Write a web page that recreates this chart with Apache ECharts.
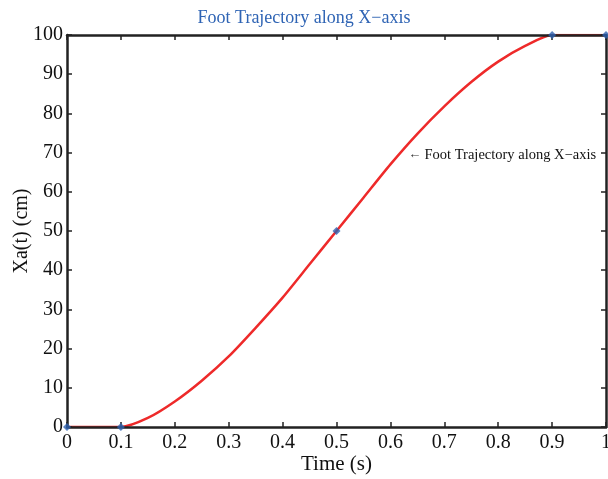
<!DOCTYPE html>
<html><head><meta charset="utf-8">
<script src="https://cdn.jsdelivr.net/npm/echarts@6/dist/echarts.min.js"></script>
<style>html,body{margin:0;padding:0;background:#fff}#c{width:608px;height:479px}</style>
</head><body><div id="c"></div>
<script>
const times = [0, 0.1, 0.15, 0.2, 0.25, 0.3, 0.35, 0.4, 0.45, 0.5, 0.55, 0.6, 0.65, 0.7, 0.75, 0.8, 0.85, 0.9, 1];
const xa =    [0, 0,   2.3,  6.5, 11.8, 18,  25.3, 33,  41.5, 50,  58.5, 67,  74.8, 81.8, 88,  93.2, 97.2, 100, 100];
const keyTimes = [0, 0.1, 0.5, 0.9, 1];
const keyXa =    [0, 0,   50,  100, 100];
const annotation = {x: 0.633, y: 69.4, text: 'Foot Trajectory along X\u2212axis'};
const FONT = '"Liberation Serif", "DejaVu Serif", serif';

const chart = echarts.init(document.getElementById('c'));
const axisCommon = {
  type: 'value',
  axisLine: {show: true, onZero: false, lineStyle: {color: '#222', width: 2.5}},
  axisTick: {show: true, inside: true, length: 5, lineStyle: {color: '#222', width: 1.5}},
  splitLine: {show: false},
  zlevel: 1,
  z: 10
};
chart.setOption({
  animation: false,
  title: {text: 'Foot Trajectory along X\u2212axis', left: 'center', top: 4,
    textStyle: {fontFamily: FONT, fontWeight: 'normal', fontSize: 18, color: '#2f64b4'}},
  grid: {left: 67, right: 2, top: 35, bottom: 52, outerBoundsMode: 'none', containLabel: false},
  xAxis: [
    Object.assign({}, axisCommon, {min: 0, max: 1, interval: 0.1, position: 'bottom',
      name: 'Time (s)', nameLocation: 'middle', nameGap: 27, nameMoveOverlap: false,
      nameTextStyle: {fontFamily: FONT, fontSize: 21, color: '#111'},
      axisLabel: {fontFamily: FONT, fontSize: 20, color: '#111', margin: 6,
        formatter: v => String(+v.toFixed(1))}}),
    Object.assign({}, axisCommon, {min: 0, max: 1, interval: 0.1, position: 'top', axisLabel: {show: false}})
  ],
  yAxis: [
    Object.assign({}, axisCommon, {min: 0, max: 100, interval: 10, position: 'left',
      name: 'Xa(t) (cm)', nameLocation: 'middle', nameGap: 35, nameMoveOverlap: false,
      nameTextStyle: {fontFamily: FONT, fontSize: 20, color: '#111'},
      axisLabel: {fontFamily: FONT, fontSize: 20, color: '#111', margin: 4}}),
    Object.assign({}, axisCommon, {min: 0, max: 100, interval: 10, position: 'right', axisLabel: {show: false}})
  ],
  series: [
    {type: 'line', data: times.map((t, i) => [t, xa[i]]), smooth: 0.25, showSymbol: false,
      lineStyle: {color: '#ee2a2a', width: 2.5}, z: 2,
      markPoint: {symbol: 'circle', symbolSize: 0,
        data: [{coord: [annotation.x, annotation.y], value: annotation.text,
          label: {show: true, position: 'right', distance: 0,
            formatter: '{a|\u2190} {b|' + annotation.text + '}',
            rich: {a: {fontSize: 13, fontFamily: FONT, color: '#333'},
                   b: {fontSize: 14.5, fontFamily: FONT, color: '#111'}}}}]}},
    {type: 'scatter', data: keyTimes.map((t, i) => [t, keyXa[i]]), symbol: 'diamond', symbolSize: 8,
      itemStyle: {color: '#2e62b0'}, zlevel: 2, z: 12}
  ]
});
</script></body></html>
